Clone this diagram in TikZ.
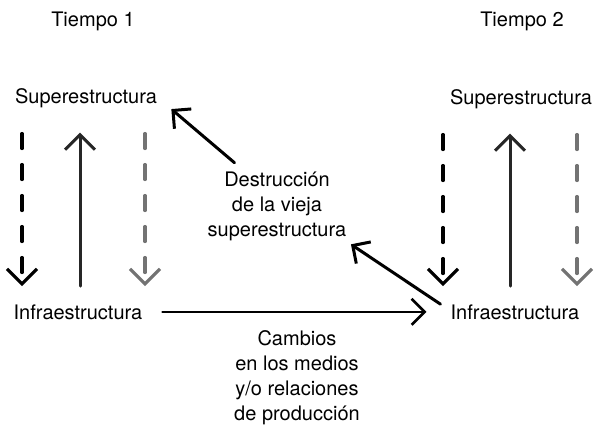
\documentclass[tikz,border=0pt]{standalone}
\usepackage{fontspec}
\setmainfont{TeX Gyre Heros}
\usetikzlibrary{arrows.meta}
\begin{document}
\begin{tikzpicture}[x=1pt,y=-1pt,font=\fontsize{20}{25}\selectfont,line join=round,line cap=round]
				\tikzset{lbl/.style={inner sep=2pt,align=center},
					tip/.style={-{Straight Barb[length=15pt,width=30pt]}},
					uarr/.style={tip,line width=3pt,black!85,shorten <=16pt,shorten >=22pt},
					darr/.style={tip,line width=3.2pt,dash pattern=on 15pt off 16pt,shorten <=23pt,shorten >=16pt},
					sarr/.style={-{Straight Barb[length=13pt,width=26pt]},line width=3pt}}
				\useasboundingbox (0,0) rectangle (599,425);
				% titulos
				\node[lbl,anchor=base] (t1) at (93,27) {Tiempo 1};
				\node[lbl,anchor=base] (t2) at (522,27) {Tiempo 2};
				% niveles
				\node[lbl,anchor=base] (sup1) at (86,104) {Superestructura};
				\node[lbl,anchor=base] (inf1) at (78,319) {Infraestructura};
				\node[lbl,anchor=base] (sup2) at (521,105) {Superestructura};
				\node[lbl,anchor=base] (inf2) at (515,319) {Infraestructura};
				\node[lbl] (destr) at (277,206) {Destrucción\\de la vieja\\superestructura};
				\node[lbl] (camb) at (297,378) {Cambios\\en los medios\\y/o relaciones\\de producción};
				% flechas verticales
				\foreach \s/\i/\xa/\xb/\xc in {sup1/inf1/22/80/145,sup2/inf2/443/510/577}{
					\path (\xa,0) coordinate (ca) (\xb,0) coordinate (cb) (\xc,0) coordinate (cc);
					\draw[darr] (\s.south -| ca) -- (\i.north -| ca);
					\draw[uarr] (\i.north -| cb) -- (\s.south -| cb);
					\draw[darr,black!55] (\s.south -| cc) -- (\i.north -| cc);
				}
				% cambios
				\draw[sarr,line width=2.6pt,shorten <=18pt,shorten >=22pt] (inf1.east) -- (inf2.west);
				\draw[sarr,shorten <=4pt,shorten >=16pt] (destr.north west) ++(32,-4) coordinate (d0) (d0) -- (sup1.east);
				\draw[sarr,shorten >=3pt] (inf2.north west) ++(-8,2) coordinate (i0) (i0) -- (destr.south east);
			\end{tikzpicture}
\end{document}
